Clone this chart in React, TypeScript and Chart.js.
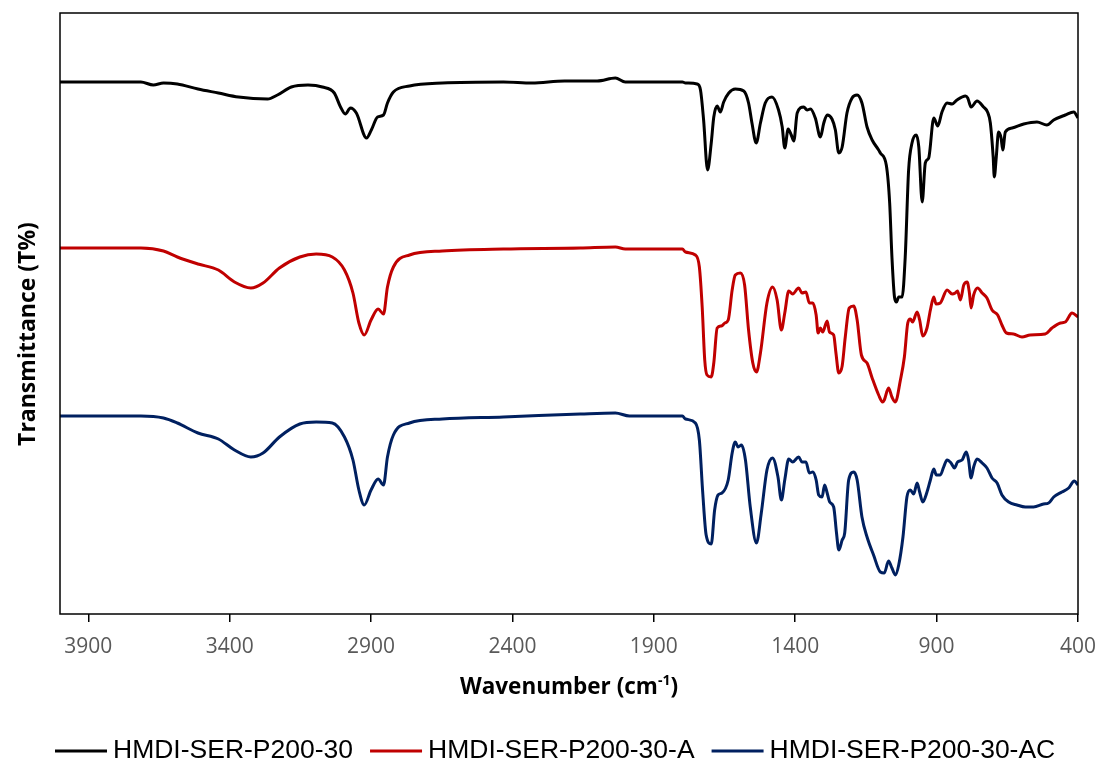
import React, { useEffect, useRef } from "react";
import { Chart, registerables } from "chart.js";
Chart.register(...registerables);

const seriesNames = ["HMDI-SER-P200-30", "HMDI-SER-P200-30-A", "HMDI-SER-P200-30-AC"];
const seriesColors = ["#000000", "#C00000", "#002060"];
const xTickValues = [3900, 3400, 2900, 2400, 1900, 1400, 900, 400];
const xTitle = "Wavenumber (cm";
const xTitleSup = "-1";
const yTitle = "Transmittance (T%)";

const blackWn = [4000,3714,3670,3634,3585,3512,3440,3369,3266,3231,3182,3123,3072,3030,3008,2991,2973,2952,2916,2899,2877,2856,2842,2821,2764,2648,2432,2331,2216,2100,2036,2001,1799,1788,1747,1735,1724,1710,1697,1688,1676,1665,1653,1635,1612,1582,1565,1553,1538,1523,1506,1482,1459,1446,1437,1425,1414,1405,1393,1370,1358,1346,1329,1311,1299,1287,1270,1258,1246,1234,1217,1199,1181,1164,1146,1128,1105,1099,1078,1066,1058,1049,1042,1034,1022,1011,999,987,972,963,951,940,928,910,896,881,863,845,828,798,790,778,757,734,720,710,700,696,689,681,672,666,657,633,592,545,510,486,445,415,400];
const blackT = [53.2,53.2,52.9,53.1,53.0,52.5,52.1,51.7,51.5,51.9,52.7,52.9,52.7,52.1,50.7,50.0,50.6,50.1,47.6,48.4,49.7,49.9,51.1,52.2,52.8,53.1,53.2,53.1,53.3,53.3,53.6,53.2,53.2,53.1,53.0,52.4,49.4,44.4,47.1,49.7,50.8,50.2,51.2,52.1,52.5,52.3,51.1,49.1,47.1,49.1,51.1,51.7,50.4,48.7,46.6,48.5,47.9,47.3,50.1,50.7,50.4,50.5,49.6,47.7,49.1,49.9,49.5,48.4,46.1,46.7,50.1,51.6,51.9,51.1,48.7,47.4,46.4,46.1,44.9,41.1,35.7,31.7,31.2,31.7,31.7,35.7,44.4,47.1,47.9,46.7,41.2,45.1,45.6,49.6,48.8,50.2,51.1,51.0,51.4,51.8,51.6,50.7,51.3,50.7,50.2,49.1,45.7,43.7,45.7,48.2,47.6,46.4,48.2,48.6,49.0,49.2,48.9,49.4,49.9,50.2,49.6];

const redWn = [4000,3714,3634,3585,3512,3440,3383,3325,3282,3224,3152,3094,3037,2994,2964,2943,2924,2900,2875,2856,2842,2821,2764,2648,2432,2160,2036,2001,1799,1788,1753,1739,1729,1720,1712,1697,1688,1676,1661,1649,1637,1623,1612,1594,1579,1565,1550,1537,1523,1500,1480,1464,1449,1437,1423,1409,1388,1376,1362,1350,1338,1326,1319,1311,1303,1287,1279,1264,1256,1246,1234,1223,1209,1193,1181,1166,1146,1128,1105,1091,1085,1070,1058,1046,1028,1014,1002,993,985,969,960,949,934,922,910,902,887,863,845,834,826,816,804,792,784,778,769,755,739,722,704,684,669,653,628,598,569,516,492,462,445,421,400];
const redT = [36.6,36.6,36.3,35.7,35.0,34.4,33.2,32.6,33.1,34.6,35.7,36.0,35.7,34.4,32.1,29.1,27.9,29.4,30.5,30.0,32.7,34.7,35.9,36.3,36.5,36.6,36.7,36.5,36.5,36.2,35.9,34.7,30.7,25.4,23.9,23.7,25.1,28.6,28.8,29.1,29.4,32.4,33.9,34.1,32.9,28.4,25.1,24.2,26.1,31.1,32.7,31.4,28.4,30.1,32.3,32.0,32.6,32.1,32.2,31.1,31.1,29.9,28.1,28.6,28.2,29.3,28.2,27.9,26.1,24.1,24.8,27.7,30.6,30.8,29.4,25.9,25.1,23.6,21.9,21.2,21.4,22.6,21.7,21.2,23.4,25.7,29.1,29.5,29.2,30.2,29.4,27.8,28.6,30.4,31.7,31.0,31.1,32.4,32.0,32.1,32.3,31.4,32.9,33.2,32.1,30.6,31.9,32.6,32.1,31.6,30.4,29.9,28.9,28.1,28.0,27.7,27.9,28.0,28.6,29.1,29.2,30.1,29.7];

const blueWn = [4000,3714,3634,3585,3512,3440,3383,3325,3282,3224,3152,3094,3037,2994,2964,2943,2924,2900,2875,2856,2842,2821,2764,2648,2432,2160,2036,1986,1799,1788,1753,1739,1727,1715,1697,1685,1673,1659,1637,1623,1612,1602,1590,1576,1559,1537,1520,1500,1480,1461,1449,1437,1423,1409,1388,1376,1362,1350,1338,1326,1317,1305,1296,1287,1278,1264,1254,1246,1234,1225,1211,1193,1181,1164,1146,1123,1099,1085,1070,1058,1046,1034,1019,1005,993,981,969,960,949,934,922,910,901,887,875,863,849,837,826,810,795,787,778,769,757,739,722,704,686,669,645,616,586,557,522,504,486,457,433,413,400];
const blueT = [19.8,19.8,19.6,19.1,18.1,17.5,16.4,15.7,16.1,17.7,19.0,19.2,19.1,17.7,15.4,12.4,10.9,12.4,13.5,12.9,15.7,17.9,19.1,19.5,19.7,20.0,20.1,19.8,19.8,19.5,19.1,17.4,12.1,7.9,7.0,10.4,11.9,12.1,13.4,16.1,17.2,16.7,16.9,15.4,10.7,7.1,10.1,14.4,15.6,13.7,11.4,13.4,15.5,15.2,15.7,15.2,15.2,14.1,14.2,13.4,11.9,11.7,12.9,12.1,11.2,10.7,8.1,6.4,7.4,8.1,13.4,14.2,13.4,9.7,7.7,5.9,4.2,4.1,5.3,4.6,3.9,4.9,7.7,11.7,12.4,12.0,13.1,12.2,11.2,12.2,13.4,14.5,13.9,13.9,14.7,15.4,15.1,14.6,15.2,15.4,16.2,15.4,13.6,14.7,15.5,15.1,14.6,13.6,13.1,11.9,11.2,10.9,10.7,10.7,11.0,11.1,11.7,12.2,12.6,13.3,12.9];

const seriesWn = [blackWn, redWn, blueWn];
const seriesT = [blackT, redT, blueT];

function toPoints(wn: number[], t: number[]) {
  const n = Math.min(wn.length, t.length);
  const pts: { x: number; y: number }[] = [];
  for (let i = 0; i < n; i++) pts.push({ x: wn[i], y: t[i] });
  return pts;
}

const decorPlugin = {
  id: "decor",
  afterDatasetsDraw(chart: any) {
    const { ctx, chartArea: a } = chart;
    ctx.save();
    ctx.strokeStyle = "#000";
    ctx.lineWidth = 1.5;
    ctx.strokeRect(a.left, a.top, a.right - a.left, a.bottom - a.top);
    ctx.restore();
  },
  afterDraw(chart: any) {
    const { ctx, chartArea: a } = chart;
    ctx.save();
    ctx.fillStyle = "#000";
    ctx.textBaseline = "middle";
    // x title with superscript
    const mainFont = 'bold 22.5px "Open Sans"';
    const supFont = 'bold 14px "Open Sans"';
    ctx.font = mainFont;
    const w1 = ctx.measureText(xTitle).width;
    const w3 = ctx.measureText(")").width;
    ctx.font = supFont;
    const w2 = ctx.measureText(xTitleSup).width;
    const cx = (a.left + a.right) / 2;
    let x = cx - (w1 + w2 + w3) / 2;
    const ty = 688;
    ctx.textAlign = "left";
    ctx.font = mainFont;
    ctx.fillText(xTitle, x, ty);
    x += w1;
    ctx.font = supFont;
    ctx.fillText(xTitleSup, x, ty - 7);
    x += w2;
    ctx.font = mainFont;
    ctx.fillText(")", x, ty);
    // y title
    ctx.save();
    ctx.translate(28, 334);
    ctx.rotate(-Math.PI / 2);
    ctx.textAlign = "center";
    ctx.font = 'bold 23px "Open Sans"';
    ctx.fillText(yTitle, 0, 0);
    ctx.restore();
    // legend
    const ly = 751;
    const lineLen = 52;
    const gapText = 6;
    const gapItem = 17;
    ctx.font = '26.5px "Liberation Sans"';
    ctx.textAlign = "left";
    let lx = 55;
    chart.data.datasets.forEach((ds: any) => {
      ctx.strokeStyle = ds.borderColor;
      ctx.lineWidth = 3;
      ctx.beginPath();
      ctx.moveTo(lx, ly);
      ctx.lineTo(lx + lineLen, ly);
      ctx.stroke();
      ctx.fillStyle = "#000";
      ctx.fillText(ds.label, lx + lineLen + gapText, ly);
      lx += lineLen + gapText + ctx.measureText(ds.label).width + gapItem;
    });
    ctx.restore();
  },
};

export default function App() {
  const ref = useRef<HTMLCanvasElement | null>(null);
  useEffect(() => {
    document.body.style.margin = "0";
    if (!ref.current) return;
    const chart = new Chart(ref.current, {
      type: "line",
      data: {
        datasets: seriesNames.map((name, i) => ({
          label: name,
          data: toPoints(seriesWn[i], seriesT[i]),
          borderColor: seriesColors[i],
          backgroundColor: seriesColors[i],
          borderWidth: 3,
          pointRadius: 0,
          cubicInterpolationMode: "monotone" as const,
          fill: false,
        })),
      },
      options: {
        responsive: false,
        animation: false,
        events: [],
        layout: { autoPadding: false, padding: { left: 60, right: 23, top: 13, bottom: 0 } },
        plugins: { legend: { display: false }, tooltip: { enabled: false }, title: { display: false } },
        scales: {
          x: {
            type: "linear",
            min: 400,
            max: 4000,
            reverse: true,
            afterBuildTicks: (s: any) => {
              s.ticks = xTickValues.map((v) => ({ value: v }));
            },
            afterFit: (s: any) => {
              s.height = 150;
              s.paddingLeft = 0;
              s.paddingRight = 0;
              s.paddingTop = 0;
              s.paddingBottom = 0;
            },
            grid: { display: true, drawOnChartArea: false, drawTicks: true, tickLength: 8, color: "#000", lineWidth: 1.5 },
            border: { display: false },
            ticks: {
              color: "#595959",
              font: { family: '"Open Sans"', size: 21 },
              padding: 12,
              maxRotation: 0,
              autoSkip: false,
              callback: (v: any) => String(v),
            },
          },
          y: { display: false, min: 0, max: 60.1 },
        },
      },
      plugins: [decorPlugin],
    });
    return () => chart.destroy();
  }, []);
  return (
    <div style={{ position: "absolute", left: 0, top: 0, width: 1101, height: 764, background: "#fff" }}>
      <canvas ref={ref} width={1101} height={764} style={{ width: 1101, height: 764 }} />
    </div>
  );
}
